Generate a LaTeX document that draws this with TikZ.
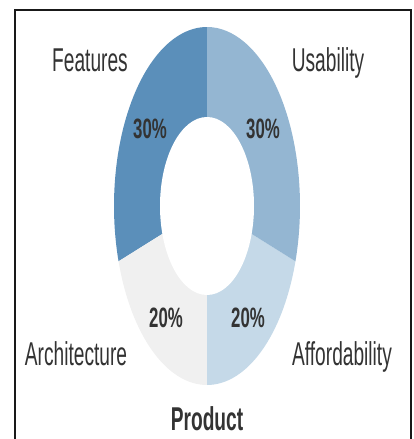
\documentclass[tikz,border=0pt]{standalone}
\usepackage{fontspec}
\newfontfamily\labfont[FakeStretch=0.58]{Liberation Sans}
\newfontfamily\pctfont[FakeStretch=0.6]{Liberation Sans}
\definecolor{featc}{HTML}{5B8FBA}
\definecolor{usac}{HTML}{94B6D2}
\definecolor{affc}{HTML}{C5D9E8}
\definecolor{arcc}{HTML}{F0F0F0}
\definecolor{txtc}{HTML}{333333}
\tikzset{
  lab/.style={anchor=base, inner sep=0pt, text=txtc, font=\labfont\fontsize{33}{36}\selectfont},
  pct/.style={anchor=base, inner sep=0pt, text=txtc, font=\pctfont\bfseries\fontsize{28}{30}\selectfont},
  ttl/.style={anchor=base, inner sep=0pt, text=txtc, font=\labfont\bfseries\fontsize{33}{36}\selectfont},
  frame/.style={draw=black!90, line width=2pt}
}
\begin{document}
\begin{tikzpicture}[x=1pt,y=1pt]
\useasboundingbox (0,0) rectangle (413,-439);
\coordinate (c) at (207,-206);
% segments
\fill[featc] (c) -- ([shift={(207,-206)}]90:93 and 179) arc[start angle=90, end angle=198, x radius=93, y radius=179] -- cycle;
\fill[arcc] (c) -- ([shift={(207,-206)}]198:93 and 179) arc[start angle=198, end angle=270, x radius=93, y radius=179] -- cycle;
\fill[affc] (c) -- ([shift={(207,-206)}]270:93 and 179) arc[start angle=270, end angle=342, x radius=93, y radius=179] -- cycle;
\fill[usac] (c) -- ([shift={(207,-206)}]-18:93 and 179) arc[start angle=-18, end angle=90, x radius=93, y radius=179] -- cycle;
\fill[white] (c) ellipse[x radius=47, y radius=89];
% frame
\draw[frame] (15,-441) -- (15,-10) -- (411,-10) -- (411,-441);
% labels
\node[lab] (feat) at (90,-71) {Features};
\node[lab] (usa) at (328,-71) {Usability};
\node[lab] (arch) at (76,-365) {Architecture};
\node[lab] (aff) at (342,-365) {Affordability};
\node[ttl] (prod) at (207,-430) {Product};
\node[pct] (p1) at (150,-138) {30\%};
\node[pct] (p2) at (263,-138) {30\%};
\node[pct] (p3) at (166,-327) {20\%};
\node[pct] (p4) at (248,-327) {20\%};
\end{tikzpicture}
\end{document}
